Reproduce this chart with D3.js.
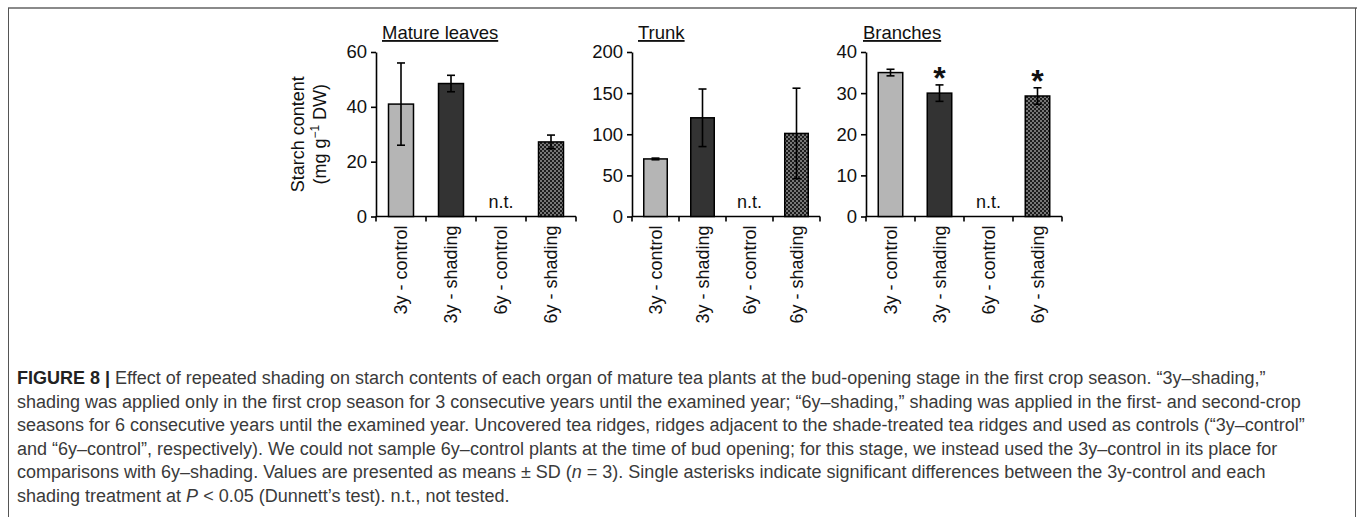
<!DOCTYPE html>
<html lang="en">
<head>
<meta charset="UTF-8">
<title>Starch content</title>
<style>
    body { margin: 0; background: #fff; }
    svg { display: block; font-family: "Liberation Sans", Arial, sans-serif; }
    .tick text { font-size: 18.5px; fill: #111; }
    .title { font-size: 18.5px; text-decoration: underline; fill: #111; }
    .xlab { font-size: 18px; fill: #111; }
    .caption { font-size: 18px; fill: #3a3a3a; }
</style>
</head>
<body>
<script src="https://cdn.jsdelivr.net/npm/d3@7"></script>
<script>
    // data
    const panels = ["Mature leaves", "Trunk", "Branches"];
    const groups = ["3y - control", "3y - shading", "6y - control", "6y - shading"];
    const leavesMean = [41, 48.5, null, 27.2];
    const leavesSD = [15, 3, null, 2.5];
    const trunkMean = [70, 120, null, 101];
    const trunkSD = [1, 35, null, 55];
    const branchMean = [35, 30, null, 29.3];
    const branchSD = [0.8, 2, null, 2];
    const branchSignif = [false, true, false, true];
    const yMaxes = [60, 200, 40];
    const yTickSteps = [20, 50, 10];

    const captionLines = [
        "Effect of repeated shading on starch contents of each organ of mature tea plants at the bud-opening stage in the first crop season. \u201c3y\u2013shading,\u201d",
        "shading was applied only in the first crop season for 3 consecutive years until the examined year; \u201c6y\u2013shading,\u201d shading was applied in the first- and second-crop",
        "seasons for 6 consecutive years until the examined year. Uncovered tea ridges, ridges adjacent to the shade-treated tea ridges and used as controls (\u201c3y\u2013control\u201d",
        "and \u201c6y\u2013control\u201d, respectively). We could not sample 6y\u2013control plants at the time of bud opening; for this stage, we instead used the 3y\u2013control in its place for",
        "comparisons with 6y\u2013shading. Values are presented as means \u00b1 SD (|n| = 3). Single asterisks indicate significant differences between the 3y-control and each",
        "shading treatment at |P| < 0.05 (Dunnett\u2019s test). n.t., not tested."
    ];

    const means = [leavesMean, trunkMean, branchMean];
    const sds = [leavesSD, trunkSD, branchSD];
    const fills = ["#b5b5b5", "#333333", "none", "url(#dots)"];

    const width = 1360, height = 517;
    const yTop = 52, yBot = 216.5;
    const layout = [
        {x0: 376, w: 200, tx: 6},
        {x0: 632, w: 188, tx: 6},
        {x0: 866, w: 196, tx: -3}
    ];

    const svg = d3.select("body").append("svg")
        .attr("width", width)
        .attr("height", height);

    const pat = svg.append("defs").append("pattern")
        .attr("id", "dots")
        .attr("patternUnits", "userSpaceOnUse")
        .attr("width", 4).attr("height", 4);
    pat.append("rect").attr("width", 4).attr("height", 4).attr("fill", "#1c1c1c");
    pat.append("circle").attr("cx", 1).attr("cy", 1).attr("r", 0.75).attr("fill", "#fff");
    pat.append("circle").attr("cx", 3).attr("cy", 3).attr("r", 0.75).attr("fill", "#fff");

    // frame
    svg.append("line").attr("x1", 8).attr("x2", 1357).attr("y1", 8).attr("y2", 8)
        .attr("stroke", "#8a8a8a").attr("stroke-width", 2);
    svg.append("line").attr("x1", 8.5).attr("x2", 8.5).attr("y1", 8).attr("y2", height)
        .attr("stroke", "#555").attr("stroke-width", 1);
    svg.append("line").attr("x1", 1355.5).attr("x2", 1355.5).attr("y1", 8).attr("y2", height)
        .attr("stroke", "#555").attr("stroke-width", 1);

    panels.forEach((name, p) => {
        const L = layout[p];
        const g = svg.append("g");

        const x = d3.scaleBand()
            .domain(groups)
            .range([L.x0, L.x0 + L.w])
            .paddingInner(0.5)
            .paddingOuter(0.25);
        const y = d3.scaleLinear().domain([0, yMaxes[p]]).range([yBot, yTop]);

        const yAxis = d3.axisLeft(y)
            .tickValues(d3.range(0, yMaxes[p] + 1, yTickSteps[p]))
            .tickSize(5)
            .tickSizeOuter(0)
            .tickPadding(4);
        const ya = g.append("g").attr("transform", `translate(${L.x0},0)`).call(yAxis);
        ya.selectAll("path, line").attr("stroke", "#000").attr("stroke-width", 1.6);

        // x axis with ticks on band boundaries
        const step = x.step();
        g.append("line")
            .attr("x1", L.x0).attr("x2", L.x0 + L.w)
            .attr("y1", y(0)).attr("y2", y(0))
            .attr("stroke", "#000").attr("stroke-width", 1.6);
        g.selectAll(".xt").data(d3.range(groups.length + 1)).join("line")
            .attr("x1", i => L.x0 + i * step).attr("x2", i => L.x0 + i * step)
            .attr("y1", y(0)).attr("y2", y(0) + 5)
            .attr("stroke", "#000").attr("stroke-width", 1.6);

        g.selectAll(".xlab").data(groups).join("text")
            .attr("class", "xlab")
            .attr("transform", d => `translate(${x(d) + x.bandwidth() / 2},${y(0) + 9}) rotate(-90)`)
            .attr("dy", "0.35em")
            .attr("text-anchor", "end")
            .text(d => d);

        const rows = groups.map((grp, i) => ({grp, m: means[p][i], sd: sds[p][i], i}));
        const valid = rows.filter(r => r.m != null);

        g.selectAll(".bar").data(valid).join("rect")
            .attr("x", r => x(r.grp))
            .attr("width", x.bandwidth())
            .attr("y", r => y(r.m))
            .attr("height", r => y(0) - y(r.m))
            .attr("fill", r => fills[r.i])
            .attr("stroke", "#000")
            .attr("stroke-width", 1.5);

        const cap = 4;
        const eb = g.selectAll(".err").data(valid).join("g")
            .attr("stroke", "#000").attr("stroke-width", 1.6);
        eb.append("line")
            .attr("x1", r => x(r.grp) + x.bandwidth() / 2)
            .attr("x2", r => x(r.grp) + x.bandwidth() / 2)
            .attr("y1", r => y(r.m - r.sd)).attr("y2", r => y(r.m + r.sd));
        eb.append("line")
            .attr("x1", r => x(r.grp) + x.bandwidth() / 2 - cap)
            .attr("x2", r => x(r.grp) + x.bandwidth() / 2 + cap)
            .attr("y1", r => y(r.m + r.sd)).attr("y2", r => y(r.m + r.sd));
        eb.append("line")
            .attr("x1", r => x(r.grp) + x.bandwidth() / 2 - cap)
            .attr("x2", r => x(r.grp) + x.bandwidth() / 2 + cap)
            .attr("y1", r => y(r.m - r.sd)).attr("y2", r => y(r.m - r.sd));

        // not tested
        rows.filter(r => r.m == null).forEach(r => {
            g.append("text")
                .attr("x", x(r.grp) + x.bandwidth() / 2)
                .attr("y", y(0) - 9)
                .attr("text-anchor", "middle")
                .attr("font-size", 18)
                .attr("fill", "#111")
                .text("n.t.");
        });

        if (p === 2) {
            valid.filter(r => branchSignif[r.i]).forEach(r => {
                g.append("text")
                    .attr("x", x(r.grp) + x.bandwidth() / 2)
                    .attr("y", y(r.m + r.sd) + 4)
                    .attr("text-anchor", "middle")
                    .attr("font-size", 32)
                    .attr("font-weight", "bold")
                    .attr("fill", "#111")
                    .text("*");
            });
        }

        g.append("text")
            .attr("class", "title")
            .attr("x", L.x0 + L.tx)
            .attr("y", 39)
            .text(name);
    });

    // y axis title
    const yt = svg.append("text")
        .attr("transform", `translate(304,${(yTop + yBot) / 2}) rotate(-90)`)
        .attr("text-anchor", "middle")
        .attr("font-size", 18)
        .attr("fill", "#111");
    yt.append("tspan").attr("x", 0).attr("dy", 0).text("Starch content");
    const t2 = yt.append("tspan").attr("x", 0).attr("dy", 22).text("(mg g");
    t2.append("tspan").attr("font-size", 12).attr("dy", -7).text("\u22121");
    t2.append("tspan").attr("dy", 7).text(" DW)");

    // caption
    const capG = svg.append("g");
    captionLines.forEach((line, i) => {
        const t = capG.append("text")
            .attr("class", "caption")
            .attr("x", 17)
            .attr("y", 384 + i * 23.5);
        if (i === 0) {
            t.append("tspan")
                .attr("font-family", "'Liberation Sans Narrow', 'Liberation Sans', sans-serif")
                .attr("font-weight", "bold")
                .attr("fill", "#222")
                .text("FIGURE 8 | ");
        }
        line.split("|").forEach((part, k) => {
            const s = t.append("tspan").text(part);
            if (k % 2 === 1) s.attr("font-style", "italic");
        });
    });
</script>
</body>
</html>
